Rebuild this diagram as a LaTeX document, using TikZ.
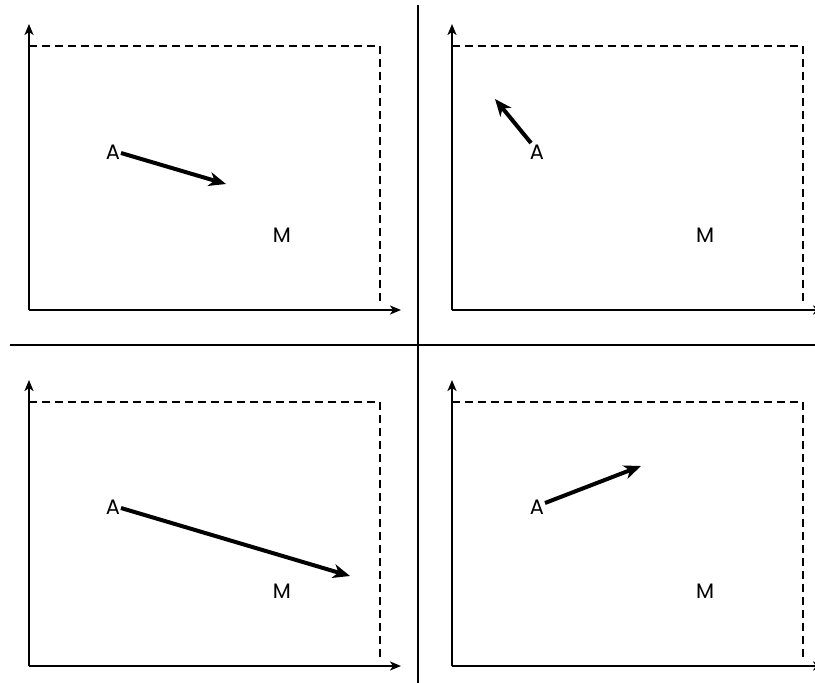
\documentclass[tikz,border=0pt]{standalone}
\usepackage{fontspec}
\setmainfont{Poppins}
\usetikzlibrary{arrows.meta}
\begin{document}
\begin{tikzpicture}[x=1bp,y=-1bp,
  axis/.style={line width=2bp,-{Stealth[length=11bp,width=9bp,inset=3bp]}},
  frame/.style={line width=1.9bp,dash pattern=on 8bp off 5bp},
  divider/.style={line width=2bp},
  vec/.style={line width=4bp,-{Stealth[length=17bp,width=14bp,inset=5bp]}},
  lbl/.style={font=\fontsize{21}{21}\selectfont,inner sep=0pt}]
\useasboundingbox (0,0) rectangle (815,683);
\fill[white] (0,0) rectangle (815,683);
% dividers
\coordinate (vt) at (418,5); \coordinate (vb) at (418,683);
\coordinate (hl) at (10,345); \coordinate (hr) at (815,345);
\draw[divider] (vt) -- (vb);
\draw[divider] (hl) -- (hr);
% panels
\foreach \ox/\oy/\nm in {0/0/tl,423/0/tr,0/356/bl,423/356/br}{
  \begin{scope}[shift={(\ox,\oy)}]
    \coordinate (o\nm) at (29,310);
    \coordinate (yt\nm) at (29,24);
    \coordinate (xt\nm) at (401,310);
    \coordinate (c\nm) at (29,46);
    \coordinate (d\nm) at (380,46);
    \coordinate (e\nm) at (380,305);
    \draw[axis] (o\nm) -- (yt\nm);
    \draw[axis] (o\nm) -- (xt\nm);
    \draw[frame] (c\nm) -- (d\nm) -- (e\nm);
  \end{scope}
}
% labels
\node[lbl] (Atl) at (113,152) {A};
\node[lbl] (Mtl) at (282,235) {M};
\node[lbl] (Atr) at (537,152) {A};
\node[lbl] (Mtr) at (705,235) {M};
\node[lbl] (Abl) at (113,507) {A};
\node[lbl] (Mbl) at (282,591) {M};
\node[lbl] (Abr) at (537,507) {A};
\node[lbl] (Mbr) at (705,591) {M};
% vectors
\coordinate (stl) at (121,153); \coordinate (etl) at (226,184);
\coordinate (str) at (531,143); \coordinate (etr) at (495,99);
\coordinate (sbl) at (121,508); \coordinate (ebl) at (350,576);
\coordinate (sbr) at (545,503); \coordinate (ebr) at (641,466);
\draw[vec] (stl) -- (etl);
\draw[vec] (str) -- (etr);
\draw[vec] (sbl) -- (ebl);
\draw[vec] (sbr) -- (ebr);
\end{tikzpicture}
\end{document}
